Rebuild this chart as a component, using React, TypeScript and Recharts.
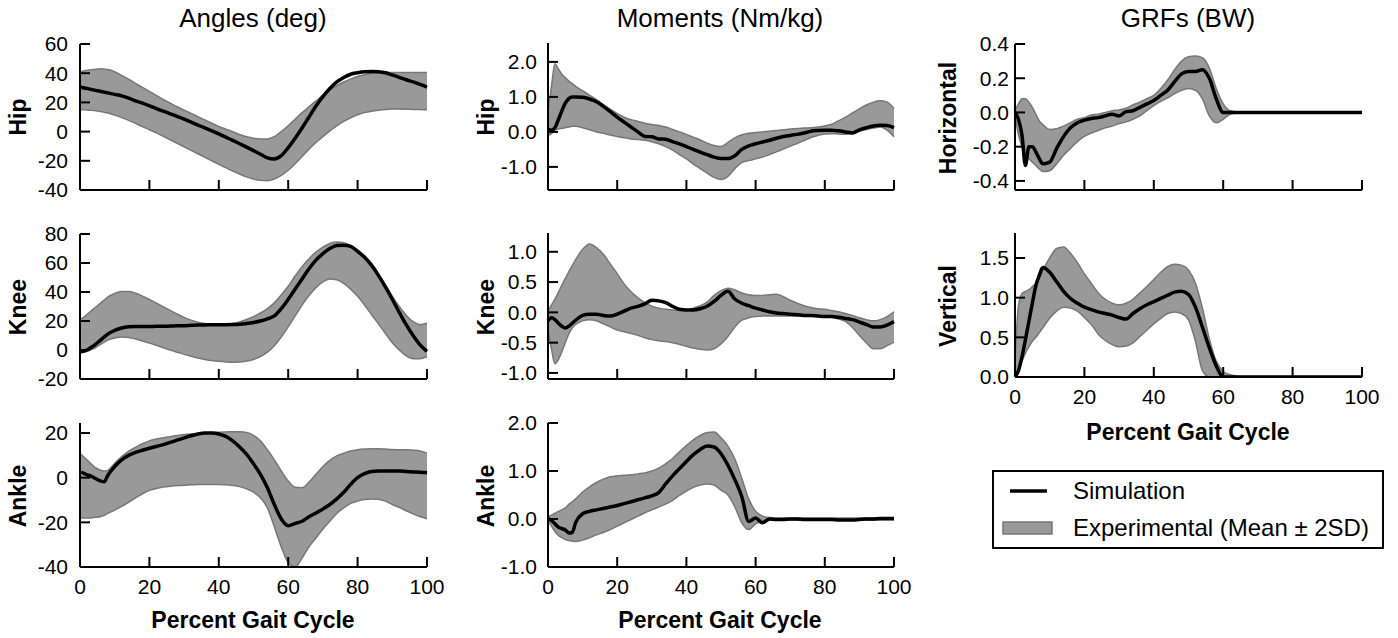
import React from "react";
import { ComposedChart, Area, Line, XAxis, YAxis } from "recharts";

// percent gait cycle sample points (shared by every panel)
const PCT = [0, 1, 2, 3, 4, 5, 6, 7, 8, 10, 12, 14, 16, 18, 20, 22, 24, 26, 28, 30, 32, 34, 36, 38, 40, 42, 44, 46, 48, 50, 52, 54, 56, 58, 60, 62, 64, 66, 68, 70, 72, 74, 76, 78, 80, 82, 84, 86, 88, 90, 92, 94, 96, 98, 100];
const X_TICKS = [0, 20, 40, 60, 80, 100];

// Angles (deg)
const hipAngleSim = [30.5, 30, 29.5, 29, 28.5, 28, 27.5, 27, 26.5, 25.5, 24.5, 23, 21, 19.5, 17.7, 15.8, 14, 12.2, 10.4, 8.5, 6.5, 4.5, 2.5, 0.5, -1.6, -3.8, -6, -8.3, -10.6, -13, -15.5, -18, -18.8, -16.5, -11, -4.5, 2.5, 10, 17.5, 24, 29.5, 34, 37, 39.3, 40.3, 41, 41.2, 41, 40.3, 38.8, 37.2, 35.5, 34, 32.3, 30.5];
const hipAngleHi = [41, 41.5, 42, 42.3, 42.6, 42.8, 43, 42.8, 42.5, 41, 38.5, 36, 33, 30.3, 27.5, 24.8, 22, 19.5, 17, 14.7, 12.5, 10.2, 8, 5.7, 3.5, 1.7, 0, -2, -3.5, -4.5, -5, -5, -3.5, 0, 4, 8.5, 13, 17, 21, 25, 28.5, 31.5, 34, 36, 37.8, 39, 40, 40.5, 40.5, 40.5, 40.5, 40.5, 40.5, 40.5, 40.5];
const hipAngleLo = [15, 15, 14.8, 14.6, 14.4, 14.1, 13.8, 13.3, 12.7, 11.3, 9.6, 7.7, 5.6, 3.5, 1.3, -0.9, -3.2, -5.6, -8, -10.4, -12.8, -15.2, -17.6, -20, -22.4, -24.7, -27, -29, -31, -32.5, -33.4, -33.6, -32.5, -30, -26.5, -22, -17, -12, -7.5, -3.4, 0.5, 4, 7, 9.5, 11.5, 13, 14, 14.7, 15.2, 15.4, 15.4, 15.3, 15.2, 15.1, 15];

const kneeAngleSim = [-1, -0.8, 0, 1.5, 3, 5, 7, 9, 11, 13.5, 15.2, 16, 16.2, 16.2, 16.2, 16.3, 16.3, 16.5, 16.7, 16.8, 17, 17.2, 17.3, 17.4, 17.5, 17.5, 17.6, 17.8, 18.3, 19, 20, 21.5, 23.5, 28.5, 35, 42, 49, 56, 62, 66.5, 70, 72, 72.3, 71.5, 68, 64, 58.5, 51.5, 43.5, 35, 26, 17.5, 10, 3.5, -1];
const kneeAngleHi = [21, 22.5, 24.5, 26.5, 28.5, 30.5, 32.5, 34.5, 36.5, 39, 40.3, 40.3, 39.2, 37.2, 34.8, 32.3, 29.8, 27.3, 24.8, 22.5, 20.6, 19.2, 18.3, 17.8, 17.6, 17.8, 18.3, 19.3, 21, 23, 25.5, 28.5, 32.5, 38, 44, 51, 57.5, 63, 67.5, 71, 73.5, 74.5, 74, 72, 69, 65, 59.5, 52.5, 45, 37, 30, 24, 19.5, 17.5, 18.5];
const kneeAngleLo = [-2, -1.5, -1, 0, 1, 2.5, 4, 5.5, 6.8, 8.3, 9, 8.7, 7.6, 6.2, 4.8, 3.2, 1.6, 0, -1.5, -3, -4.3, -5.5, -6.5, -7.3, -7.8, -8.2, -8.5, -8.3, -7.6, -6.5, -4.5, -1.5, 3, 9, 16, 23.5, 31, 37.5, 43, 47, 49, 48.5, 46, 42, 37, 31, 24.5, 18, 11.5, 5, 0, -4, -6, -6, -4.5];

const ankleAngleSim = [2.5, 2, 1.3, 0.8, 0, -0.8, -1.5, -1.8, 1, 5, 8, 10, 11.3, 12.3, 13.2, 14, 14.8, 15.8, 16.8, 17.8, 18.8, 19.6, 20, 20, 19.6, 18.5, 16.5, 13.8, 10.5, 6.3, 1.5, -4.5, -12, -18.5, -21.5, -20.5, -19.5, -17.5, -15.8, -14, -12, -9.5, -6.5, -3, 0, 1.8, 2.8, 3, 3, 3, 3, 2.8, 2.6, 2.4, 2.2];
const ankleAngleHi = [10.7, 9.5, 8, 6.5, 5, 4, 3.3, 3, 3.3, 6.5, 9.5, 11.8, 13.6, 15.2, 16.5, 17.3, 17.9, 18.4, 18.9, 19.3, 19.6, 19.8, 20, 20.2, 20.4, 20.5, 20.6, 20.6, 20.3, 19, 16.5, 12.5, 8, 3, -1.5, -4.3, -4.5, -2, 1.5, 5, 7.8, 9.8, 11, 12, 12.5, 12.8, 13, 13, 12.8, 12.6, 12.5, 12.5, 12.3, 12, 11];
const ankleAngleLo = [-18, -18, -18, -18, -17.8, -17.7, -17.4, -16.8, -16, -14.5, -12.8, -11, -9, -7.2, -5.7, -4.8, -4.2, -3.8, -3.5, -3.4, -3.2, -3.1, -3, -3, -3, -3.2, -3.5, -4, -5, -6.5, -9, -13.5, -22, -31, -38, -40, -36, -31, -27, -23, -19.5, -16, -13.5, -11.5, -10.5, -9.8, -9.5, -9.7, -10.5, -12, -13.3, -14.8, -16.2, -17.4, -18.4];

// Moments (Nm/kg)
const hipMomentSim = [0.08, 0.05, 0.12, 0.35, 0.6, 0.82, 0.95, 1.0, 1.0, 0.99, 0.94, 0.86, 0.73, 0.58, 0.42, 0.28, 0.14, 0.0, -0.13, -0.14, -0.2, -0.21, -0.28, -0.34, -0.42, -0.5, -0.58, -0.65, -0.72, -0.76, -0.76, -0.68, -0.5, -0.4, -0.34, -0.29, -0.24, -0.18, -0.13, -0.1, -0.07, -0.03, 0.02, 0.04, 0.05, 0.05, 0.03, 0.0, -0.03, 0.06, 0.12, 0.17, 0.19, 0.18, 0.12];
const hipMomentHi = [0.6, 1.3, 1.95, 1.8, 1.65, 1.55, 1.45, 1.38, 1.3, 1.18, 1.05, 0.92, 0.78, 0.65, 0.52, 0.42, 0.35, 0.3, 0.25, 0.21, 0.18, 0.14, 0.07, 0.0, -0.07, -0.15, -0.23, -0.32, -0.39, -0.42, -0.3, -0.17, -0.08, -0.04, -0.02, 0.0, 0.02, 0.04, 0.06, 0.08, 0.1, 0.11, 0.12, 0.14, 0.17, 0.22, 0.32, 0.42, 0.54, 0.66, 0.77, 0.85, 0.89, 0.85, 0.67];
const hipMomentLo = [-0.1, -0.05, 0.05, 0.08, 0.1, 0.12, 0.14, 0.16, 0.16, 0.12, 0.06, 0.0, -0.04, -0.09, -0.13, -0.17, -0.2, -0.22, -0.24, -0.28, -0.34, -0.42, -0.52, -0.65, -0.77, -0.92, -1.05, -1.18, -1.3, -1.36, -1.27, -1.05, -0.88, -0.82, -0.77, -0.72, -0.65, -0.57, -0.49, -0.41, -0.33, -0.25, -0.16, -0.1, -0.06, -0.05, -0.06, -0.07, -0.04, 0.02, 0.07, 0.11, 0.14, 0.05, -0.14];

const kneeMomentSim = [-0.14, -0.09, -0.12, -0.18, -0.23, -0.26, -0.23, -0.18, -0.13, -0.05, -0.03, -0.03, -0.05, -0.06, -0.03, 0.02, 0.07, 0.1, 0.14, 0.2, 0.19, 0.16, 0.1, 0.05, 0.04, 0.04, 0.06, 0.1, 0.18, 0.28, 0.35, 0.22, 0.15, 0.11, 0.07, 0.04, 0.01, -0.01, -0.02, -0.03, -0.04, -0.05, -0.05, -0.06, -0.07, -0.07, -0.08, -0.1, -0.12, -0.16, -0.2, -0.24, -0.24, -0.21, -0.15];
const kneeMomentHi = [0.02, 0.12, 0.22, 0.33, 0.45, 0.56, 0.67, 0.77, 0.87, 1.04, 1.13, 1.07, 0.96, 0.8, 0.64, 0.47, 0.34, 0.24, 0.16, 0.1, 0.07, 0.05, 0.04, 0.03, 0.04, 0.07, 0.11, 0.17, 0.28, 0.36, 0.4, 0.37, 0.32, 0.29, 0.28, 0.28, 0.29, 0.3, 0.26, 0.2, 0.15, 0.11, 0.08, 0.06, 0.05, 0.03, 0.01, -0.02, -0.05, -0.09, -0.12, -0.14, -0.12, -0.07, 0.01];
const kneeMomentLo = [-0.28, -0.6, -0.85, -0.78, -0.65, -0.5, -0.36, -0.26, -0.2, -0.14, -0.12, -0.14, -0.19, -0.24, -0.29, -0.32, -0.35, -0.38, -0.42, -0.45, -0.47, -0.48, -0.5, -0.53, -0.56, -0.59, -0.61, -0.62, -0.6, -0.52, -0.4, -0.24, -0.13, -0.09, -0.07, -0.06, -0.06, -0.06, -0.06, -0.06, -0.06, -0.06, -0.06, -0.06, -0.07, -0.08, -0.11, -0.15, -0.25, -0.38, -0.5, -0.6, -0.6, -0.55, -0.49];

const ankleMomentSim = [0.01, -0.03, -0.1, -0.17, -0.2, -0.23, -0.29, -0.28, -0.07, 0.11, 0.16, 0.19, 0.22, 0.25, 0.28, 0.32, 0.36, 0.4, 0.44, 0.48, 0.55, 0.73, 0.9, 1.05, 1.2, 1.34, 1.45, 1.52, 1.5, 1.36, 1.12, 0.82, 0.47, -0.05, 0.02, -0.08, 0.0, -0.01, -0.01, 0, 0, -0.01, -0.01, -0.01, -0.01, -0.01, -0.02, -0.02, -0.02, -0.01, 0, 0, 0.01, 0.01, 0.01];
const ankleMomentHi = [0.05, 0.08, 0.12, 0.16, 0.19, 0.23, 0.3, 0.36, 0.42, 0.56, 0.67, 0.76, 0.83, 0.88, 0.9, 0.91, 0.92, 0.94, 0.96, 1.0, 1.06, 1.15, 1.26, 1.4, 1.53, 1.65, 1.74, 1.8, 1.81, 1.69, 1.52, 1.25, 0.85, 0.42, 0.16, 0.06, 0.03, 0.02, 0.02, 0.02, 0.02, 0.02, 0.02, 0.02, 0.02, 0.02, 0.02, 0.02, 0.02, 0.02, 0.02, 0.02, 0.02, 0.02, 0.02];
const ankleMomentLo = [-0.02, -0.15, -0.26, -0.34, -0.39, -0.43, -0.45, -0.46, -0.47, -0.44, -0.39, -0.33, -0.28, -0.22, -0.15, -0.08, -0.01, 0.06, 0.13, 0.19, 0.25, 0.31, 0.39, 0.49, 0.58, 0.66, 0.71, 0.73, 0.71, 0.6, 0.5, 0.25, -0.08, -0.22, -0.1, -0.04, -0.02, -0.02, -0.02, -0.02, -0.02, -0.02, -0.02, -0.02, -0.02, -0.02, -0.02, -0.02, -0.02, -0.02, -0.02, -0.02, -0.02, -0.02, -0.02];

// GRFs (BW)
const grfHorizSim = [0, -0.04, -0.13, -0.31, -0.2, -0.2, -0.23, -0.27, -0.3, -0.29, -0.21, -0.14, -0.09, -0.06, -0.045, -0.035, -0.03, -0.02, -0.01, -0.02, 0.005, 0.01, 0.03, 0.05, 0.07, 0.1, 0.13, 0.18, 0.225, 0.24, 0.24, 0.25, 0.2, 0.08, 0, 0, 0, 0, 0, 0, 0, 0, 0, 0, 0, 0, 0, 0, 0, 0, 0, 0, 0, 0, 0];
const grfHorizHi = [0.01, 0.05, 0.08, 0.08, 0.06, 0.03, -0.01, -0.05, -0.07, -0.1, -0.095, -0.08, -0.06, -0.04, -0.03, -0.015, -0.01, 0.0, 0.01, 0.015, 0.025, 0.045, 0.06, 0.08, 0.1, 0.14, 0.19, 0.25, 0.3, 0.325, 0.33, 0.32, 0.26, 0.14, 0.05, 0.01, 0.003, 0.003, 0.003, 0.003, 0.003, 0.003, 0.003, 0.003, 0.003, 0.003, 0.003, 0.003, 0.003, 0.003, 0.003, 0.003, 0.003, 0.003, 0.003];
const grfHorizLo = [-0.02, -0.13, -0.2, -0.25, -0.27, -0.29, -0.31, -0.33, -0.345, -0.34, -0.3, -0.25, -0.21, -0.17, -0.14, -0.12, -0.105, -0.09, -0.08, -0.065, -0.055, -0.04, -0.02, 0.01, 0.04, 0.065, 0.085, 0.11, 0.13, 0.14, 0.13, 0.08, -0.02, -0.06, -0.04, -0.01, -0.003, -0.003, -0.003, -0.003, -0.003, -0.003, -0.003, -0.003, -0.003, -0.003, -0.003, -0.003, -0.003, -0.003, -0.003, -0.003, -0.003, -0.003, -0.003];

const grfVertSim = [0, 0.08, 0.25, 0.47, 0.7, 0.93, 1.15, 1.28, 1.38, 1.32, 1.2, 1.08, 0.99, 0.93, 0.88, 0.85, 0.82, 0.8, 0.78, 0.75, 0.73, 0.8, 0.86, 0.91, 0.95, 0.99, 1.03, 1.07, 1.08, 1.04, 0.88, 0.63, 0.37, 0.14, 0, 0, 0, 0, 0, 0, 0, 0, 0, 0, 0, 0, 0, 0, 0, 0, 0, 0, 0, 0, 0];
const grfVertHi = [0.2, 0.9, 1.05, 1.08, 1.1, 1.14, 1.18, 1.25, 1.34, 1.5, 1.62, 1.64, 1.56, 1.44, 1.3, 1.18, 1.06, 0.98, 0.93, 0.91, 0.93, 0.98, 1.06, 1.14, 1.23, 1.32, 1.39, 1.42, 1.41, 1.35, 1.18, 0.87, 0.48, 0.2, 0.07, 0.03, 0.01, 0, 0, 0, 0, 0, 0, 0, 0, 0, 0, 0, 0, 0, 0, 0, 0, 0, 0];
const grfVertLo = [0, 0.1, 0.2, 0.3, 0.38, 0.45, 0.5, 0.56, 0.62, 0.74, 0.83, 0.88, 0.87, 0.83, 0.75, 0.66, 0.54, 0.46, 0.41, 0.38, 0.39, 0.43, 0.51, 0.59, 0.67, 0.74, 0.8, 0.82, 0.8, 0.72, 0.45, 0.08, 0, 0, 0, 0, 0, 0, 0, 0, 0, 0, 0, 0, 0, 0, 0, 0, 0, 0, 0, 0, 0, 0, 0];

const FONT = '"Liberation Sans", Arial, sans-serif';
const BAND_FILL = "#999999";
const BAND_EDGE = "#777777";

// chart padding around the plot area
const YW = 70;
const MT = 16;
const MR = 32;
const XH = 40;

const makeRows = (sim: number[], lo: number[], hi: number[]) =>
  PCT.map((p, i) => ({ pct: p, sim: sim[i], band: [lo[i], hi[i]] }));

const intFmt = (v: number) => String(v);
const oneDec = (v: number) => v.toFixed(1);

interface PanelProps {
  x0: number;
  x1: number;
  y0: number;
  y1: number;
  rows: { pct: number; sim: number; band: number[] }[];
  domain: [number, number];
  ticks: number[];
  fmt: (v: number) => string;
  gap: number;
  showX?: boolean;
}

const Panel: React.FC<PanelProps> = ({ x0, x1, y0, y1, rows, domain, ticks, fmt, gap, showX }) => {
  const w = x1 - x0;
  const h = y1 - y0;
  const axisY = MT + h;

  const yTick = (props: any) => (
    <g>
      <line x1={YW} x2={YW + 10} y1={props.y} y2={props.y} stroke="#000" strokeWidth={2} />
      <text x={YW - gap} y={props.y} dy="0.35em" textAnchor="end" fontSize={21} fontFamily={FONT} fill="#000">
        {fmt(props.payload.value)}
      </text>
    </g>
  );

  const xTick = (props: any) => (
    <g>
      <line x1={props.x} x2={props.x} y1={axisY} y2={axisY - 10} stroke="#000" strokeWidth={2} />
      {showX && (
        <text x={props.x} y={axisY + 20} dy="0.35em" textAnchor="middle" fontSize={21} fontFamily={FONT} fill="#000">
          {props.payload.value}
        </text>
      )}
    </g>
  );

  return (
    <div style={{ position: "absolute", left: x0 - YW, top: y0 - MT }}>
      <ComposedChart
        width={w + YW + MR}
        height={h + MT + XH}
        data={rows}
        margin={{ top: MT, right: MR, bottom: 0, left: 0 }}
      >
        <XAxis
          dataKey="pct"
          type="number"
          domain={[0, 100]}
          ticks={X_TICKS}
          interval={0}
          height={XH}
          tickLine={false}
          axisLine={{ stroke: "#000", strokeWidth: 2 }}
          tick={xTick}
        />
        <YAxis
          type="number"
          domain={domain}
          ticks={ticks}
          interval={0}
          allowDataOverflow
          width={YW}
          tickLine={false}
          axisLine={{ stroke: "#000", strokeWidth: 2 }}
          tick={yTick}
        />
        <Area
          type="monotone"
          dataKey="band"
          fill={BAND_FILL}
          fillOpacity={1}
          stroke={BAND_EDGE}
          strokeWidth={1.5}
          isAnimationActive={false}
        />
        <Line
          type="monotone"
          dataKey="sim"
          stroke="#000"
          strokeWidth={3.5}
          dot={false}
          isAnimationActive={false}
        />
      </ComposedChart>
    </div>
  );
};

const RowLabel = ({ x, y, text }: { x: number; y: number; text: string }) => (
  <text
    x={x}
    y={y}
    dy="0.35em"
    transform={`rotate(-90 ${x} ${y})`}
    textAnchor="middle"
    fontSize={23}
    fontWeight="bold"
    fontFamily={FONT}
    fill="#000"
  >
    {text}
  </text>
);

const App: React.FC = () => {
  return (
    <div style={{ position: "absolute", left: 0, top: 0, width: 1398, height: 638, background: "#fff", fontFamily: FONT }}>
      <svg width={1398} height={638} style={{ position: "absolute", left: 0, top: 0 }}>
        <text x={253} y={18} dy="0.35em" textAnchor="middle" fontSize={26} fontFamily={FONT}>Angles (deg)</text>
        <text x={720} y={18} dy="0.35em" textAnchor="middle" fontSize={26} fontFamily={FONT}>Moments (Nm/kg)</text>
        <text x={1188} y={18} dy="0.35em" textAnchor="middle" fontSize={26} fontFamily={FONT}>GRFs (BW)</text>

        <RowLabel x={18} y={117} text="Hip" />
        <RowLabel x={18} y={307} text="Knee" />
        <RowLabel x={18} y={496} text="Ankle" />
        <RowLabel x={486} y={117} text="Hip" />
        <RowLabel x={486} y={307} text="Knee" />
        <RowLabel x={486} y={496} text="Ankle" />
        <RowLabel x={948} y={118} text="Horizontal" />
        <RowLabel x={948} y={306} text="Vertical" />

        <text x={253} y={620} dy="0.35em" textAnchor="middle" fontSize={23} fontWeight="bold" fontFamily={FONT}>Percent Gait Cycle</text>
        <text x={720} y={620} dy="0.35em" textAnchor="middle" fontSize={23} fontWeight="bold" fontFamily={FONT}>Percent Gait Cycle</text>
        <text x={1188} y={432} dy="0.35em" textAnchor="middle" fontSize={23} fontWeight="bold" fontFamily={FONT}>Percent Gait Cycle</text>

        {/* legend */}
        <rect x={993} y={471} width={390} height={77} fill="#fff" stroke="#000" strokeWidth={2} />
        <line x1={1010} x2={1047} y1={491} y2={491} stroke="#000" strokeWidth={3.5} />
        <text x={1073} y={491} dy="0.35em" fontSize={24} fontFamily={FONT}>Simulation</text>
        <rect x={1003} y={522} width={49} height={12} fill={BAND_FILL} stroke={BAND_EDGE} strokeWidth={1.5} />
        <text x={1073} y={528} dy="0.35em" fontSize={24} fontFamily={FONT}>Experimental (Mean ± 2SD)</text>
      </svg>

      <Panel x0={80} x1={427} y0={44} y1={190} rows={makeRows(hipAngleSim, hipAngleLo, hipAngleHi)} domain={[-40, 60]} ticks={[-40, -20, 0, 20, 40, 60]} fmt={intFmt} gap={12} />
      <Panel x0={80} x1={427} y0={234} y1={379} rows={makeRows(kneeAngleSim, kneeAngleLo, kneeAngleHi)} domain={[-20, 80]} ticks={[-20, 0, 20, 40, 60, 80]} fmt={intFmt} gap={12} />
      <Panel x0={80} x1={427} y0={423} y1={567} rows={makeRows(ankleAngleSim, ankleAngleLo, ankleAngleHi)} domain={[-40, 24.5]} ticks={[-40, -20, 0, 20]} fmt={intFmt} gap={12} showX />

      <Panel x0={548} x1={894} y0={43} y1={190} rows={makeRows(hipMomentSim, hipMomentLo, hipMomentHi)} domain={[-1.66, 2.54]} ticks={[-1, 0, 1, 2]} fmt={oneDec} gap={11} />
      <Panel x0={548} x1={894} y0={233} y1={379} rows={makeRows(kneeMomentSim, kneeMomentLo, kneeMomentHi)} domain={[-1.1, 1.31]} ticks={[-1, -0.5, 0, 0.5, 1]} fmt={oneDec} gap={11} />
      <Panel x0={548} x1={894} y0={423} y1={567} rows={makeRows(ankleMomentSim, ankleMomentLo, ankleMomentHi)} domain={[-1, 2]} ticks={[-1, 0, 1, 2]} fmt={oneDec} gap={11} showX />

      <Panel x0={1015} x1={1362} y0={44} y1={190} rows={makeRows(grfHorizSim, grfHorizLo, grfHorizHi)} domain={[-0.453, 0.4]} ticks={[-0.4, -0.2, 0, 0.2, 0.4]} fmt={oneDec} gap={6} />
      <Panel x0={1015} x1={1362} y0={233} y1={377} rows={makeRows(grfVertSim, grfVertLo, grfVertHi)} domain={[0, 1.815]} ticks={[0, 0.5, 1, 1.5]} fmt={oneDec} gap={6} showX />
    </div>
  );
};

export default App;
